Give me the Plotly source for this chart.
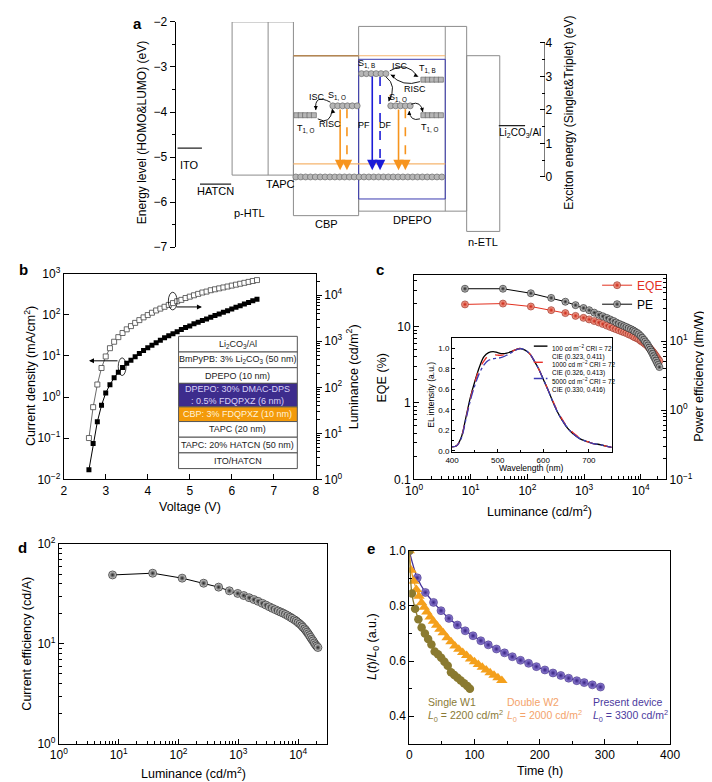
import numpy as np
import plotly.graph_objects as go

W, H = 712, 782
FONT = "Liberation Sans, Arial, Helvetica, sans-serif"

# ══════════════════════════════════════════════════════════
# 数据
# ══════════════════════════════════════════════════════════

# a: 能级 (eV)
ito_level = -4.8
hatcn_level = -5.6
cathode_level = -4.3
htl_levels = [-2.0, -5.4]        # p-HTL / TAPC
cbp_levels = [-2.75, -6.3]
dpepo_levels = [-2.1, -6.2]
netl_levels = [-2.75, -6.65]
dmac_levels = [-2.83, -5.93]
fdqpxz_levels = [-2.75, -5.15]
# a: 激子能量 (eV)
s1_o, t1_o = 2.12, 1.84
s1_b, t1_b = 3.08, 2.90
ground_state = 0.0

# b/c/d: J-V-L 与效率
voltage = [2.6, 2.7, 2.8, 2.9, 3.0, 3.1, 3.2, 3.3, 3.4, 3.5,
           3.6, 3.7, 3.8, 3.9, 4.0, 4.1, 4.2, 4.3, 4.4, 4.5,
           4.6, 4.7, 4.8, 4.9, 5.0, 5.1, 5.2, 5.3, 5.4, 5.5,
           5.6, 5.7, 5.8, 5.9, 6.0, 6.1, 6.2, 6.3, 6.4, 6.5, 6.6]
current_density = [0.017, 0.074, 0.25, 0.63, 1.26, 2.0, 2.95, 4.0, 5.25, 6.6,
                   7.9, 9.5, 11.5, 13.5, 15.8, 18.2, 20.9, 24.0, 27.5, 30.9,
                   34.7, 38.9, 43.7, 49.0, 53.7, 60.3, 66.1, 72.4, 79.4, 87.1,
                   95.5, 104.7, 114.8, 125.9, 138.0, 151.4, 166.0, 182.0, 199.5, 218.8, 240.0]
luminance = [7.9, 37, 115, 263, 468, 708, 977, 1230, 1514, 1820,
             2138, 2512, 2884, 3311, 3715, 4169, 4677, 5129, 5623, 6166,
             6761, 7413, 7943, 8710, 9333, 10000, 10715, 11482, 12023, 12882,
             13490, 14125, 14791, 15488, 16218, 16982, 17783, 18621, 19498, 20417, 21380]
eqe = [19.5, 20.0, 18.3, 16.4, 15.0, 13.8, 13.0, 12.4, 11.8, 11.3,
       10.8, 10.3, 9.9, 9.5, 9.2, 8.9, 8.6, 8.4, 8.2, 7.9,
       7.7, 7.4, 7.2, 7.0, 6.8, 6.5, 6.3, 6.1, 5.9, 5.7,
       5.5, 5.3, 5.1, 4.9, 4.7, 4.5, 4.3, 4.1, 3.9, 3.7, 3.55]
power_eff = [57, 57, 49, 42, 37, 33, 30, 27.9, 25.7, 24.0,
             22.8, 21.6, 20.5, 19.5, 18.5, 17.7, 17.0, 16.4, 15.9, 15.3,
             14.8, 14.2, 13.7, 13.1, 12.5, 11.8, 11.1, 10.4, 9.8, 9.2,
             8.6, 8.0, 7.5, 7.0, 6.5, 6.0, 5.6, 5.2, 4.8, 4.5, 4.2]
current_eff = [49, 51, 45.5, 40.5, 37, 34, 32, 30.5, 29, 27.8,
               26.7, 25.5, 24.5, 23.5, 22.7, 22.0, 21.3, 20.8, 20.3, 19.7,
               19.1, 18.5, 18.0, 17.4, 16.9, 16.3, 15.8, 15.2, 14.7, 14.1,
               13.6, 13.1, 12.6, 12.1, 11.6, 11.1, 10.7, 10.2, 9.8, 9.5, 9.2]

# c 内插图: EL 光谱
wavelength = [400, 410, 420, 430, 440, 450, 460, 470, 480, 490,
              500, 510, 520, 530, 540, 550, 560, 570, 580, 590,
              600, 610, 620, 630, 640, 650, 660, 670, 680, 690,
              700, 710, 720, 730, 740, 750]
el_100 = [0.04, 0.05, 0.13, 0.32, 0.52, 0.68, 0.82, 0.92, 0.96, 0.97,
          0.96, 0.95, 0.955, 0.97, 0.99, 1.0, 0.985, 0.95, 0.88, 0.80,
          0.70, 0.60, 0.49, 0.39, 0.31, 0.24, 0.19, 0.15, 0.12, 0.10,
          0.085, 0.07, 0.065, 0.055, 0.045, 0.035]
el_1000 = [0.04, 0.05, 0.13, 0.31, 0.51, 0.67, 0.80, 0.88, 0.93, 0.94,
           0.935, 0.935, 0.95, 0.97, 0.99, 1.0, 0.985, 0.95, 0.88, 0.80,
           0.70, 0.60, 0.50, 0.40, 0.32, 0.25, 0.20, 0.16, 0.125, 0.10,
           0.085, 0.07, 0.065, 0.055, 0.045, 0.035]
el_5000 = [0.04, 0.05, 0.12, 0.30, 0.49, 0.64, 0.76, 0.84, 0.885, 0.90,
           0.905, 0.915, 0.935, 0.96, 0.985, 1.0, 0.985, 0.95, 0.88, 0.80,
           0.70, 0.60, 0.49, 0.39, 0.31, 0.245, 0.19, 0.15, 0.12, 0.10,
           0.085, 0.07, 0.065, 0.055, 0.045, 0.035]
spectrum_names = ["100 cd m<sup>−2</sup> CRI = 72<br>CIE (0.323, 0.411)",
                  "1000 cd m<sup>−2</sup> CRI = 72<br>CIE (0.326, 0.413)",
                  "5000 cd m<sup>−2</sup> CRI = 72<br>CIE (0.330, 0.416)"]

# e: 寿命
present_t = [0, 12.3, 24.7, 37.2, 48.7, 60.8, 73.8, 85.8, 97.8, 109.7, 121.2, 133.7, 146.1,
             158.1, 170.6, 183.0, 195.0, 208.0, 220.4, 232.4, 244.4, 256.9, 268.3, 280.8, 293.3]
present_l = [1.0, 0.902, 0.849, 0.813, 0.783, 0.755, 0.731, 0.710, 0.692, 0.674, 0.659, 0.644, 0.630,
             0.616, 0.603, 0.592, 0.580, 0.568, 0.557, 0.548, 0.538, 0.529, 0.522, 0.514, 0.506]
double_t = [0, 3, 7, 11, 15, 19, 23, 27, 32, 37, 42, 47, 52, 58, 64, 70, 76, 82, 88, 94,
            100, 106, 112, 118, 124, 130, 136, 142]
double_l = [1.0, 0.93, 0.89, 0.86, 0.835, 0.812, 0.795, 0.778, 0.76, 0.745, 0.73, 0.716, 0.703,
            0.685, 0.67, 0.655, 0.643, 0.631, 0.62, 0.608, 0.598, 0.588, 0.578, 0.568, 0.558,
            0.549, 0.54, 0.53]
single_t = [0, 4, 9, 14, 19, 24, 29, 34, 39, 44, 49, 54, 59, 64, 69, 74, 79, 84, 89, 93]
single_l = [1.0, 0.845, 0.79, 0.752, 0.722, 0.7, 0.68, 0.66, 0.635, 0.625, 0.612, 0.598,
            0.583, 0.56, 0.55, 0.54, 0.53, 0.52, 0.51, 0.5]

# b 器件结构表
stack_layers = ["Li<sub>2</sub>CO<sub>3</sub>/Al",
                "BmPyPB: 3% Li<sub>2</sub>CO<sub>3</sub> (50 nm)",
                "DPEPO (10 nm)",
                "DPEPO: 30% DMAC-DPS<br>: 0.5% FDQPXZ (6 nm)",
                "CBP: 3% FDQPXZ (10 nm)",
                "TAPC (20 nm)",
                "TAPC: 20% HATCN (50 nm)",
                "ITO/HATCN"]
stack_fill = ["white", "white", "white", "#3d2c8d", "#f39a0a", "white", "white", "white"]
stack_text = ["#222", "#222", "#222", "#d9d2f7", "#fff3da", "#222", "#222", "#222"]

# ══════════════════════════════════════════════════════════
# 工具
# ══════════════════════════════════════════════════════════

annotations, shapes = [], []


def px(x):
    return x / W


def py(y):
    return 1 - y / H


def xd(a, b):
    return [a / W, b / W]


def yd(top, bottom):
    return [1 - bottom / H, 1 - top / H]


def ey(pix):
    """a 图像素 y -> 激子能量"""
    return (163.3 - pix) / 34.25


def text(x, y, s, size=11, color="black", xanchor="center", yanchor="middle", angle=0, align="center"):
    annotations.append(dict(xref="paper", yref="paper", x=px(x), y=py(y), text=s,
                            showarrow=False, textangle=angle, xanchor=xanchor, yanchor=yanchor,
                            align=align, font=dict(family=FONT, size=size, color=color)))


def sup(e):
    return f"10<sup>{str(e).replace('-', '−')}</sup>"


def log_minor(lo, hi, ticks="inside"):
    return dict(ticks=ticks, ticklen=3, tickcolor="black", tickwidth=0.8,
                tickmode="array", tickvals=[m * 10 ** e for e in range(lo, hi + 1) for m in range(2, 10)])


def axis(**kw):
    d = dict(showline=True, linecolor="black", linewidth=1, ticks="inside", ticklen=5,
             tickcolor="black", tickwidth=1, showgrid=False, zeroline=False,
             tickfont=dict(family=FONT, size=12, color="black"))
    d.update(kw)
    return d


fig = go.Figure()

# ══════════════════════════════════════════════════════════
# a 能级图
# ══════════════════════════════════════════════════════════

gray = "#8c8c8c"
orange = "#f7941d"
blue = "#1c1cd6"


def box(x0, x1, lv, color=gray, width=1):
    shapes.append(dict(type="rect", xref="x", yref="y", x0=x0, x1=x1, y0=lv[1], y1=lv[0],
                       line=dict(color=color, width=width), layer="below"))


def hline(x0, x1, y, color, width=1.2, yref="y"):
    shapes.append(dict(type="line", xref="x", yref=yref, x0=x0, x1=x1, y0=y, y1=y,
                       line=dict(color=color, width=width), layer="below"))


box(221, 284, htl_levels)
shapes.append(dict(type="line", xref="x", yref="y", x0=258, x1=258, y0=htl_levels[1], y1=htl_levels[0],
                   line=dict(color=gray, width=1), layer="below"))
box(284, 351, cbp_levels)
box(351, 462, dpepo_levels)
shapes.append(dict(type="line", xref="x", yref="y", x0=440, x1=440, y0=dpepo_levels[1], y1=dpepo_levels[0],
                   line=dict(color=gray, width=1), layer="below"))
box(462, 496, netl_levels)
box(351, 440, dmac_levels, color="#3b3bb0", width=1)
hline(284, 351, fdqpxz_levels[0], "#b48652", 1.6)
hline(351, 440, fdqpxz_levels[0], "#f6b56e", 1.1)
hline(284, 440, fdqpxz_levels[1], "#f6b56e", 1.1)
hline(165, 190, ito_level, "#222", 1.3)
hline(188, 220, hatcn_level, "#222", 1.3)
hline(495, 522, cathode_level, "#222", 1.3)

fig.add_trace(go.Scatter(x=[], y=[], xaxis="x", yaxis="y", showlegend=False))


def level_row(xs, e, symbol, size):
    fig.add_trace(go.Scatter(
        x=list(xs), y=[e] * len(xs), xaxis="x", yaxis="y2", mode="markers",
        marker=dict(symbol=symbol, size=size, color="#b6b6b6", line=dict(color="#6a6a6a", width=0.7)),
        showlegend=False, hoverinfo="skip"))


level_row(np.arange(286.5, 440, 5), ground_state, "circle", 6)
level_row(np.arange(324.5, 351, 5), s1_o, "circle", 6)
level_row(np.arange(354, 382, 5), s1_b, "circle", 6)
level_row(np.arange(384, 408, 5), s1_o, "circle", 6)
level_row(np.arange(287, 307, 4.5), t1_o, "square", 5)
level_row(np.arange(417.5, 439, 4.5), t1_b, "square", 5)
level_row(np.arange(417.5, 439, 4.5), t1_o, "square", 5)


def down_arrow(x, e_top, color, dashed):
    tip = 0.2
    if dashed:
        shapes.append(dict(type="line", xref="x", yref="y2", x0=x, x1=x, y0=e_top, y1=tip + 0.22,
                           line=dict(color=color, width=1.6, dash="dash")))
        annotations.append(dict(xref="x", yref="y2", x=x, y=tip, ax=0, ay=-7, text="", showarrow=True,
                                arrowhead=2, arrowsize=1.3, arrowwidth=1.6, arrowcolor=color))
    else:
        annotations.append(dict(xref="x", yref="y2", x=x, y=tip, ax=0, ay=-(e_top - tip) * 34.25,
                                text="", showarrow=True, arrowhead=2, arrowsize=1.3, arrowwidth=1.6,
                                arrowcolor=color))


down_arrow(332, s1_o - 0.1, orange, False)
down_arrow(339, s1_o - 0.1, orange, True)
down_arrow(365, s1_b - 0.1, blue, False)
down_arrow(373, s1_b - 0.1, blue, True)
down_arrow(392, s1_o - 0.1, orange, False)
down_arrow(399, s1_o - 0.1, orange, True)


def curved(p0, c, p1, tail):
    shapes.append(dict(type="path", xref="x", yref="y2",
                       path=f"M {p0[0]},{ey(p0[1])} Q {c[0]},{ey(c[1])} {p1[0]},{ey(p1[1])}",
                       line=dict(color="black", width=0.9)))
    annotations.append(dict(xref="x", yref="y2", x=p1[0], y=ey(p1[1]), ax=tail[0], ay=tail[1],
                            text="", showarrow=True, arrowhead=2, arrowsize=0.9, arrowwidth=0.9,
                            arrowcolor="black"))


curved((322, 87), (305, 78), (307, 95), (0, -4))
curved((309, 104), (322, 111), (324, 94), (1, 4))
curved((383, 55), (400, 44), (412, 61), (-4, -2))
curved((414, 66), (396, 72), (384, 59), (4, 2))
curved((379, 61), (391, 70), (382, 86), (1, -4))
curved((405, 89), (415, 85), (417, 97), (-1, -4))
curved((414, 104), (404, 107), (403, 96), (0, 4))

text(177, 151, "ITO")
text(204, 178, "HATCN")
text(239, 200, "p-HTL")
text(271, 170, "TAPC")
text(318, 211, "CBP")
text(406, 207, "DPEPO")
text(479, 230, "n-ETL")
text(517, 118, "Li<sub>2</sub>CO<sub>3</sub>/Al", size=10)
for x, y, s in [(308, 82, "ISC"), (322, 109, "RISC"), (394, 50, "ISC"), (409, 74, "RISC"),
                (356, 110, "PF"), (379, 110, "DF")]:
    text(x, y, s, size=9)
for x, y, s in [(329, 80, "S<sub>1, O</sub>"), (297, 114, "T<sub>1, O</sub>"), (359, 47, "S<sub>1, B</sub>"),
                (422, 53, "T<sub>1, B</sub>"), (391, 82, "S<sub>1, O</sub>"), (424, 113, "T<sub>1, O</sub>")]:
    text(x, y, s, size=9)
shapes.append(dict(type="line", xref="x", yref="y2", x0=542, x1=542, y0=0, y1=4,
                   line=dict(color="black", width=1)))
text(128, 118, "Energy level (HOMO&amp;LUMO) (eV)", size=12, angle=-90)
text(567, 98, "Exciton energy (Singlet&amp;Triplet) (eV)", size=12, angle=-90)

# ══════════════════════════════════════════════════════════
# b J-V-L
# ══════════════════════════════════════════════════════════

fig.add_trace(go.Scatter(x=voltage, y=current_density, xaxis="x2", yaxis="y3", mode="lines+markers",
                         line=dict(color="black", width=1),
                         marker=dict(symbol="square", size=5, color="black"), showlegend=False))
fig.add_trace(go.Scatter(x=voltage, y=luminance, xaxis="x2", yaxis="y4", mode="lines+markers",
                         line=dict(color="#444", width=0.8),
                         marker=dict(symbol="square", size=5, color="white", line=dict(color="#444", width=0.8)),
                         showlegend=False))

shapes.append(dict(type="circle", xref="paper", yref="paper", x0=px(104), x1=px(112), y0=py(366), y1=py(348),
                   line=dict(color="black", width=0.8)))
shapes.append(dict(type="circle", xref="paper", yref="paper", x0=px(155.5), x1=px(164.5), y0=py(299), y1=py(281),
                   line=dict(color="black", width=0.8)))
annotations.append(dict(xref="paper", yref="paper", x=px(74), y=py(351), ax=30, ay=0, text="", showarrow=True,
                        arrowhead=2, arrowsize=1, arrowwidth=1, arrowcolor="black"))
annotations.append(dict(xref="paper", yref="paper", x=px(190), y=py(296), ax=-27, ay=0, text="", showarrow=True,
                        arrowhead=2, arrowsize=1, arrowwidth=1, arrowcolor="black"))

row_edges = [326, 342, 358, 374, 398, 413, 429, 445, 461]
for i, name in enumerate(stack_layers):
    shapes.append(dict(type="rect", xref="paper", yref="paper", x0=px(166), x1=px(288),
                       y0=py(row_edges[i + 1]), y1=py(row_edges[i]),
                       fillcolor=stack_fill[i], line=dict(color="#555", width=1)))
    text(227, (row_edges[i] + row_edges[i + 1]) / 2, name, size=9, color=stack_text[i])

text(14, 367, "Current density (mA/cm<sup>2</sup>)", size=12.5, angle=-90)
text(345, 367, "Luminance (cd/m<sup>2</sup>)", size=12.5, angle=-90)
text(178, 500, "Voltage (V)", size=12.5)

# ══════════════════════════════════════════════════════════
# c EQE / PE
# ══════════════════════════════════════════════════════════

fig.add_trace(go.Scatter(x=luminance, y=eqe, xaxis="x3", yaxis="y5", mode="lines+markers",
                         name="<span style='color:#e2301f'>EQE</span>",
                         line=dict(color="#e2301f", width=1),
                         marker=dict(size=7, color="#fbb9a8", gradient=dict(type="radial", color="#c9200f"),
                                     line=dict(color="#8c1408", width=0.6))))
fig.add_trace(go.Scatter(x=luminance, y=power_eff, xaxis="x3", yaxis="y6", mode="lines+markers",
                         name="PE", line=dict(color="black", width=1),
                         marker=dict(size=7, color="#e6e6e6", gradient=dict(type="radial", color="#1e1e1e"),
                                     line=dict(color="black", width=0.6))))

for ys, color, dash in [(el_100, "black", "solid"), (el_1000, "#e8302a", "dash"), (el_5000, "#3c3cb4", "dashdot")]:
    fig.add_trace(go.Scatter(x=wavelength, y=ys, xaxis="x4", yaxis="y7", mode="lines",
                             line=dict(color=color, width=1.3, dash=dash, shape="spline"), showlegend=False))

for i, (color, dash) in enumerate([("black", "solid"), ("#e8302a", "dash"), ("#3c3cb4", "dashdot")]):
    yy = 336 + i * 16.5
    shapes.append(dict(type="line", xref="paper", yref="paper", x0=px(531), x1=px(545), y0=py(yy), y1=py(yy),
                       line=dict(color=color, width=1.4, dash=dash)))
    text(548, yy - 4, spectrum_names[i], size=6.5, xanchor="left", yanchor="top", align="left")

text(425, 386, "EL intensity (a.u.)", size=8.5, angle=-90)
text(529, 460, "Wavelength (nm)", size=8.5)
text(375, 368, "EQE (%)", size=12.5, angle=-90)
text(701, 367, "Power efficiency (lm/W)", size=12.5, angle=-90)
text(537, 504, "Luminance (cd/m<sup>2</sup>)", size=12.5)

# ══════════════════════════════════════════════════════════
# d 电流效率
# ══════════════════════════════════════════════════════════

fig.add_trace(go.Scatter(x=luminance, y=current_eff, xaxis="x5", yaxis="y8", mode="lines+markers",
                         line=dict(color="black", width=1),
                         marker=dict(size=8, color="#e6e6e6", gradient=dict(type="radial", color="#1e1e1e"),
                                     line=dict(color="black", width=0.6)), showlegend=False))
text(10, 640, "Current efficiency (cd/A)", size=12.5, angle=-90)
text(181, 772, "Luminance (cd/m<sup>2</sup>)", size=12.5)

# ══════════════════════════════════════════════════════════
# e 寿命
# ══════════════════════════════════════════════════════════

fig.add_trace(go.Scatter(x=present_t, y=present_l, xaxis="x6", yaxis="y9", mode="lines+markers",
                         line=dict(color="#43309a", width=1.3, shape="spline"),
                         marker=dict(size=8, color="#9a8ae0", gradient=dict(type="radial", color="#35207f"),
                                     line=dict(color="#2a1868", width=0.5)), showlegend=False))
fig.add_trace(go.Scatter(x=double_t, y=double_l, xaxis="x6", yaxis="y9", mode="lines+markers",
                         line=dict(color="#f4a01c", width=1.3, shape="spline"),
                         marker=dict(symbol="triangle-up", size=10, color="#f4a01c"), showlegend=False))
fig.add_trace(go.Scatter(x=single_t, y=single_l, xaxis="x6", yaxis="y9", mode="lines+markers",
                         line=dict(color="#8a7a30", width=1.3, shape="spline"),
                         marker=dict(size=8.5, color="#8a7a30"), showlegend=False))

text(420, 699, "Single W1", size=10.5, color="#8a7a35", xanchor="left")
text(420, 714, "<i>L</i><sub>0</sub> = 2200 cd/m<sup>2</sup>", size=10.5, color="#8a7a35", xanchor="left")
text(501, 699, "Double W2", size=10.5, color="#f4a36b", xanchor="left")
text(501, 714, "<i>L</i><sub>0</sub> = 2000 cd/m<sup>2</sup>", size=10.5, color="#f4a36b", xanchor="left")
text(590, 699, "Present device", size=10.5, color="#4b3a9e", xanchor="left")
text(590, 714, "<i>L</i><sub>0</sub> = 3300 cd/m<sup>2</sup>", size=10.5, color="#4b3a9e", xanchor="left")
text(366, 643, "<i>L</i>(<i>t</i>)/<i>L</i><sub>0</sub> (a.u.)", size=12.5, angle=-90)
text(537, 770, "Time (h)", size=12.5)

# 面板字母
for x, y, s in [(124, 7, "a"), (7, 258, "b"), (373, 258, "c"), (6, 542, "d"), (364, 543, "e")]:
    text(x, y, f"<b>{s}</b>", size=15)

# ══════════════════════════════════════════════════════════
# 坐标轴与布局
# ══════════════════════════════════════════════════════════

lum_ticks = [1, 10, 100, 1000, 10000]
lum_text = [sup(e) for e in range(5)]

fig.update_layout(
    width=W, height=H, margin=dict(l=0, r=0, t=0, b=0),
    paper_bgcolor="white", plot_bgcolor="white",
    font=dict(family=FONT, size=12, color="black"),
    showlegend=True,
    legend=dict(x=px(596), y=py(259), xanchor="left", yanchor="top", bgcolor="rgba(0,0,0,0)",
                font=dict(family=FONT, size=12), tracegroupgap=0, itemwidth=30),
    # a
    xaxis=dict(domain=xd(163, 542), range=[163, 542], visible=False, anchor="y"),
    yaxis=axis(domain=yd(5, 235), range=[-7, -2], anchor="x", ticks="outside", ticklen=5,
               tickvals=[-2, -3, -4, -5, -6, -7], ticktext=["−2", "−3", "−4", "−5", "−6", "−7"],
               minor=dict(ticks="outside", ticklen=3, dtick=0.5, tick0=-2, tickcolor="black")),
    yaxis2=axis(overlaying="y", side="right", anchor="x", range=[ey(235), ey(5)], showline=False,
                tickvals=[0, 1, 2, 3, 4], ticks="inside",
                minor=dict(ticks="inside", ticklen=3, tickmode="array", tickvals=[0.5, 1.5, 2.5, 3.5],
                           tickcolor="black")),
    # b
    xaxis2=axis(domain=xd(48, 307), range=[2, 8], anchor="y3", mirror=True,
                tickvals=[2, 3, 4, 5, 6, 7, 8]),
    yaxis3=axis(domain=yd(262, 472), type="log", range=[-2, 3], anchor="x2",
                tickvals=[0.01, 0.1, 1, 10, 100, 1000], ticktext=[sup(e) for e in range(-2, 4)]),
    yaxis4=axis(overlaying="y3", side="right", anchor="x2", type="log", range=[0, 4.47],
                tickvals=lum_ticks, ticktext=lum_text, ticks="outside", minor=log_minor(0, 4, "outside")),
    # c
    xaxis3=axis(domain=xd(408, 667), type="log", range=[0, 4.45], anchor="y5", mirror=True,
                tickvals=lum_ticks, ticktext=lum_text, minor=log_minor(0, 4)),
    yaxis5=axis(domain=yd(263, 472), type="log", range=[-1, 1.68], anchor="x3",
                tickvals=[0.1, 1, 10], ticktext=["0.1", "1", "10"], minor=log_minor(-1, 1)),
    yaxis6=axis(overlaying="y5", side="right", anchor="x3", type="log", range=[-1, 1.96],
                tickvals=[0.1, 1, 10, 100], ticktext=[sup(e) for e in range(-1, 3)], minor=log_minor(-1, 1)),
    # c inset
    xaxis4=axis(domain=xd(447, 611), range=[400, 750], anchor="y7", mirror=True,
                tickvals=[400, 500, 600, 700], ticklen=3, tickfont=dict(family=FONT, size=8),
                minor=dict(ticks="inside", ticklen=2, dtick=50, tick0=400, tickcolor="black")),
    yaxis7=axis(domain=yd(328, 444), range=[-0.01, 1.1], anchor="x4", mirror=True,
                tickvals=[0, 0.2, 0.4, 0.6, 0.8, 1.0], ticktext=["0.0", "0.2", "0.4", "0.6", "0.8", "1.0"],
                ticklen=3, tickfont=dict(family=FONT, size=8),
                minor=dict(ticks="inside", ticklen=2, dtick=0.1, tick0=0, tickcolor="black")),
    # d
    xaxis5=axis(domain=xd(43, 319), type="log", range=[0, 4.49], anchor="y8", mirror=True,
                tickvals=lum_ticks, ticktext=lum_text, minor=log_minor(0, 4)),
    yaxis8=axis(domain=yd(538, 742), type="log", range=[0, 2], anchor="x5", mirror=True,
                tickvals=[1, 10, 100], ticktext=[sup(e) for e in range(3)], minor=log_minor(0, 1)),
    # e
    xaxis6=axis(domain=xd(403, 671), range=[0, 400], anchor="y9", mirror=True,
                tickvals=[0, 100, 200, 300, 400],
                minor=dict(ticks="inside", ticklen=3, dtick=50, tick0=0, tickcolor="black")),
    yaxis9=axis(domain=yd(545, 742), range=[0.3, 1.0], anchor="x6", mirror=True,
                tickvals=[0.4, 0.6, 0.8, 1.0], ticktext=["0.4", "0.6", "0.8", "1.0"],
                minor=dict(ticks="inside", ticklen=3, dtick=0.1, tick0=0.3, tickcolor="black")),
    annotations=annotations,
    shapes=shapes,
)

fig.write_html("out.html")
